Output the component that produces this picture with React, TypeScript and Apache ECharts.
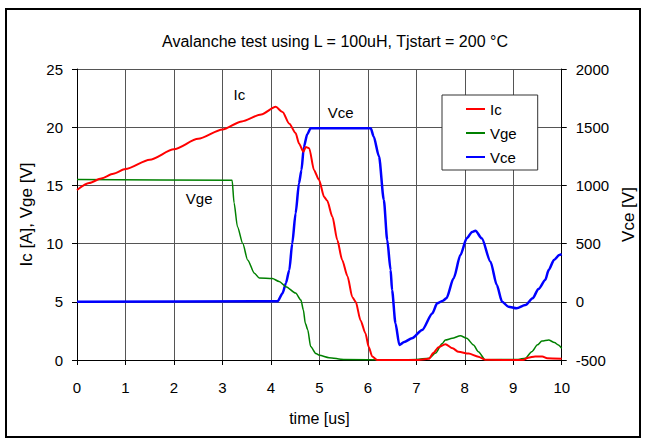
import React, { useEffect, useRef } from "react";
import * as echarts from "echarts";

// ---- data ----
const icTime = [0, 0.25, 0.5, 0.75, 1.0, 1.5, 2.0, 2.5, 3.0, 3.4, 3.8, 4.1, 4.24, 4.38, 4.51, 4.58, 4.67, 4.72, 4.79, 4.89, 4.99, 5.1, 5.16, 5.27, 5.37, 5.47, 5.58, 5.68, 5.75, 5.85, 5.95, 6.02, 6.09, 6.19, 7.0, 7.26, 7.35, 7.46, 7.6, 7.75, 7.87, 8.08, 8.28, 8.42, 9.2, 9.31, 9.45, 9.6, 9.7, 10];
const icValues = [14.6, 15.2, 15.6, 16.0, 16.4, 17.2, 18.1, 19.0, 19.8, 20.5, 21.1, 21.75, 21.3, 20.3, 19.5, 18.6, 17.9, 18.3, 18.2, 16.3, 15.5, 14.0, 13.7, 12.3, 10.3, 8.6, 7.2, 5.4, 5.0, 3.4, 2.3, 1.1, 0.3, 0, 0, 0.1, 0.6, 1.1, 1.35, 1.0, 0.7, 0.55, 0.28, 0.02, 0, 0.2, 0.3, 0.3, 0.15, 0.1];

const vgeTime = [0, 3.2, 3.24, 3.31, 3.42, 3.52, 3.66, 3.76, 4.03, 4.17, 4.31, 4.51, 4.62, 4.67, 4.71, 4.76, 4.82, 4.93, 5.0, 5.2, 5.5, 6.5, 7.0, 7.26, 7.4, 7.53, 7.6, 7.74, 7.91, 8.04, 8.18, 8.28, 8.42, 9.1, 9.25, 9.38, 9.5, 9.59, 9.73, 9.85, 9.93, 10];
const vgeValues = [15.5, 15.45, 13.5, 11.45, 10.0, 8.6, 7.45, 7.05, 7.0, 6.75, 6.3, 5.75, 5.15, 4.3, 3.15, 2.6, 1.15, 0.55, 0.4, 0.2, 0.05, 0, 0.05, 0.15, 0.6, 1.4, 1.72, 1.86, 2.09, 1.86, 1.29, 0.71, 0.02, 0.05, 0.15, 0.71, 1.3, 1.63, 1.72, 1.5, 1.29, 1.0];

const vceTime = [0, 4.14, 4.24, 4.31, 4.38, 4.44, 4.51, 4.58, 4.63, 4.68, 4.75, 4.82, 6.06, 6.12, 6.23, 6.33, 6.4, 6.47, 6.5, 6.57, 6.65, 6.75, 6.91, 7.12, 7.33, 7.43, 7.55, 7.62, 7.77, 7.91, 8.04, 8.15, 8.22, 8.35, 8.53, 8.66, 8.77, 8.9, 9.07, 9.25, 9.4, 9.52, 9.66, 9.73, 9.84, 9.95, 10];
const vceValues = [0, 5, 73, 160, 273, 500, 760, 1018, 1130, 1330, 1440, 1490, 1490, 1420, 1250, 875, 530, 273, 100, -185, -371, -345, -314, -242, -100, -13, 10, 30, 202, 402, 545, 600, 611, 545, 345, 144, 0, -42, -56, -28, 30, 110, 187, 273, 359, 402, 410];

const seriesNames = ["Ic", "Vge", "Vce"];
const seriesColors = ["#ff0000", "#008000", "#0000ff"];

const titleText = "Avalanche test using L = 100uH, Tjstart = 200 °C";
const xName = "time [us]";
const yLeftName = "Ic [A], Vge [V]";
const yRightName = "Vce [V]";

// in-plot annotations: [label, time, value on the series' own axis]
const icNote: [string, number, number] = ["Ic", 3.35, 22.85];
const vgeNote: [string, number, number] = ["Vge", 2.52, 13.9];
const vceNote: [string, number, number] = ["Vce", 5.44, 1630];

const FONT = "'Liberation Sans', Arial, sans-serif";

function zip(t: number[], v: number[]) {
  return t.map((x, i) => [x, v[i]]);
}

function note(n: [string, number, number]) {
  return {
    symbol: "circle",
    symbolSize: 1,
    itemStyle: { color: "rgba(0,0,0,0)" },
    label: {
      show: true,
      position: "inside",
      formatter: (p: any) => p.name,
      color: "#000",
      fontSize: 15,
      fontFamily: FONT,
    },
    data: [{ name: n[0], coord: [n[1], n[2]] }],
  };
}

export default function App() {
  const ref = useRef<HTMLDivElement>(null);
  useEffect(() => {
    if (!ref.current) return;
    const chart = echarts.init(ref.current, undefined, { renderer: "svg" });
    const axisLineStyle = { color: "#000", width: 1 };
    const labelStyle = {
      fontSize: 15,
      color: "#000",
      fontFamily: FONT,
      formatter: (v: number) => String(v),
    };
    chart.setOption({
      animation: false,
      backgroundColor: "#fff",
      textStyle: { fontFamily: FONT },
      title: {
        text: titleText,
        left: 330,
        top: 28,
        textAlign: "center",
        textStyle: { fontSize: 16, fontWeight: "normal", color: "#000", fontFamily: FONT },
      },
      graphic: [
        {
          type: "rect",
          shape: { x: 6, y: 9, width: 634, height: 428 },
          style: { fill: "none", stroke: "#000", lineWidth: 2 },
          z: 100,
          silent: true,
        },
      ],
      legend: {
        data: seriesNames,
        orient: "vertical",
        left: 442,
        top: 95,
        icon: "rect",
        itemWidth: 19,
        itemHeight: 2,
        itemGap: 9,
        padding: [6.5, 21, 5.5, 24],
        backgroundColor: "#fff",
        borderColor: "#333",
        borderWidth: 1,
        textStyle: { fontSize: 15, color: "#000", fontFamily: FONT },
      },
      grid: { left: 77, right: 82, top: 69, bottom: 81, containLabel: false },
      xAxis: {
        type: "value",
        min: 0,
        max: 10,
        interval: 1,
        name: xName,
        nameLocation: "middle",
        nameGap: 50,
        nameTextStyle: { fontSize: 16, fontWeight: "normal", color: "#000", fontFamily: FONT },
        axisLine: { show: true, onZero: false, lineStyle: axisLineStyle },
        axisTick: { show: true, inside: false, length: 5, lineStyle: axisLineStyle },
        axisLabel: { ...labelStyle, margin: 20 },
        splitLine: { show: true, lineStyle: { color: "#555", width: 1 } },
      },
      yAxis: [
        {
          type: "value",
          min: 0,
          max: 25,
          interval: 5,
          position: "left",
          name: yLeftName,
          nameLocation: "middle",
          nameGap: 39,
          nameTextStyle: { fontSize: 17, fontWeight: "normal", color: "#000", fontFamily: FONT },
          axisLine: { show: true, onZero: false, lineStyle: axisLineStyle },
          axisTick: { show: true, inside: false, length: 5, lineStyle: axisLineStyle },
          axisLabel: { ...labelStyle, margin: 14 },
          splitLine: { show: true, lineStyle: { color: "#555", width: 1 } },
        },
        {
          type: "value",
          min: -500,
          max: 2000,
          interval: 500,
          position: "right",
          name: yRightName,
          nameLocation: "middle",
          nameGap: 58,
          nameTextStyle: { fontSize: 17, fontWeight: "normal", color: "#000", fontFamily: FONT },
          axisLine: { show: true, onZero: false, lineStyle: axisLineStyle },
          axisTick: { show: true, inside: false, length: 5, lineStyle: axisLineStyle },
          axisLabel: { ...labelStyle, margin: 14 },
          splitLine: { show: false },
        },
      ],
      series: [
        {
          name: seriesNames[0],
          type: "line",
          yAxisIndex: 0,
          data: zip(icTime, icValues),
          showSymbol: false,
          smooth: 0.25,
          smoothMonotone: "x",
          lineStyle: { color: seriesColors[0], width: 2 },
          itemStyle: { color: seriesColors[0] },
          markPoint: note(icNote),
          z: 4,
        },
        {
          name: seriesNames[1],
          type: "line",
          yAxisIndex: 0,
          data: zip(vgeTime, vgeValues),
          showSymbol: false,
          smooth: 0.25,
          smoothMonotone: "x",
          lineStyle: { color: seriesColors[1], width: 1.5 },
          itemStyle: { color: seriesColors[1] },
          markPoint: note(vgeNote),
          z: 3,
        },
        {
          name: seriesNames[2],
          type: "line",
          yAxisIndex: 1,
          data: zip(vceTime, vceValues),
          showSymbol: false,
          smooth: 0.25,
          smoothMonotone: "x",
          lineStyle: { color: seriesColors[2], width: 2.5 },
          itemStyle: { color: seriesColors[2] },
          markPoint: note(vceNote),
          z: 2,
        },
      ],
    });
    return () => chart.dispose();
  }, []);
  return (
    <div
      ref={ref}
      style={{ position: "fixed", left: 0, top: 0, width: 645, height: 441, background: "#fff" }}
    />
  );
}
